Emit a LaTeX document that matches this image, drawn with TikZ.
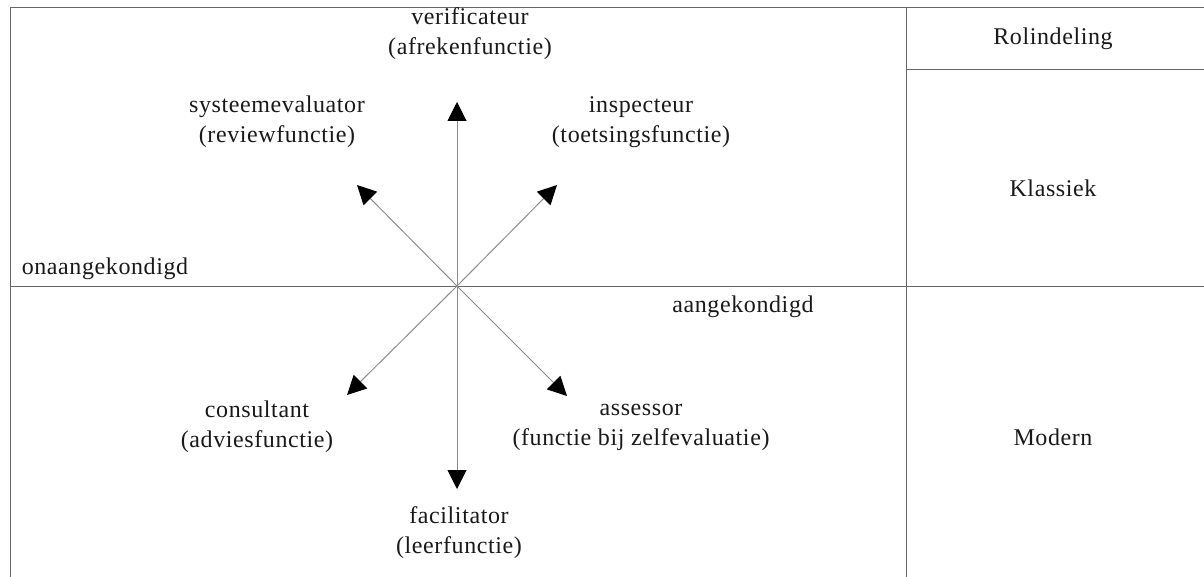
\documentclass[tikz,border=0pt]{standalone}
\usepackage{fontspec}
\setmainfont{Liberation Serif}[LetterSpace=2.5]
\usetikzlibrary{arrows.meta}
\begin{document}
\begin{tikzpicture}[x=1pt,y=-1pt,
  lbl/.style={font=\fontsize{24}{30}\selectfont, text=black!90, align=center, inner sep=0pt},
  frame/.style={draw=black!60, line width=1pt},
  ray/.style={draw=black!45, line width=1pt, -{Triangle[length=19pt,width=19pt,color=black]}}]
\useasboundingbox (0,0) rectangle (1204,577);
% frame
\draw[frame] (10,577) -- (10,8) -- (1204,8);
\draw[frame] (906,8) -- (906,577);
\draw[frame] (906,70) -- (1204,70);
\draw[frame] (10,286) -- (1204,286);
% centre and tips
\coordinate (c) at (457,286);
\coordinate (tN) at (457,102);
\coordinate (tS) at (457,489);
\coordinate (tNW) at (357,185);
\coordinate (tNE) at (557,185);
\coordinate (tSW) at (347,395);
\coordinate (tSE) at (567,396);
\draw[ray] (c) -- (tN);
\draw[ray] (c) -- (tS);
\draw[ray] (c) -- (tNW);
\draw[ray] (c) -- (tNE);
\draw[ray] (c) -- (tSW);
\draw[ray] (c) -- (tSE);
% labels
\node[lbl] (ver) at (470,34) {verificateur\\(afrekenfunctie)};
\node[lbl] (sys) at (277,122) {systeemevaluator\\(reviewfunctie)};
\node[lbl] (ins) at (641,122) {inspecteur\\(toetsingsfunctie)};
\node[lbl] (ona) at (105,269) {onaangekondigd};
\node[lbl] (aan) at (743,307) {aangekondigd};
\node[lbl] (con) at (257,427) {consultant\\(adviesfunctie)};
\node[lbl] (ass) at (641,427) {assessor\\(functie bij zelfevaluatie)};
\node[lbl] (fac) at (459,533) {facilitator\\(leerfunctie)};
\node[lbl] (rol) at (1053,39) {Rolindeling};
\node[lbl] (kla) at (1053,188) {Klassiek};
\node[lbl] (mod) at (1053,437) {Modern};
\end{tikzpicture}
\end{document}
